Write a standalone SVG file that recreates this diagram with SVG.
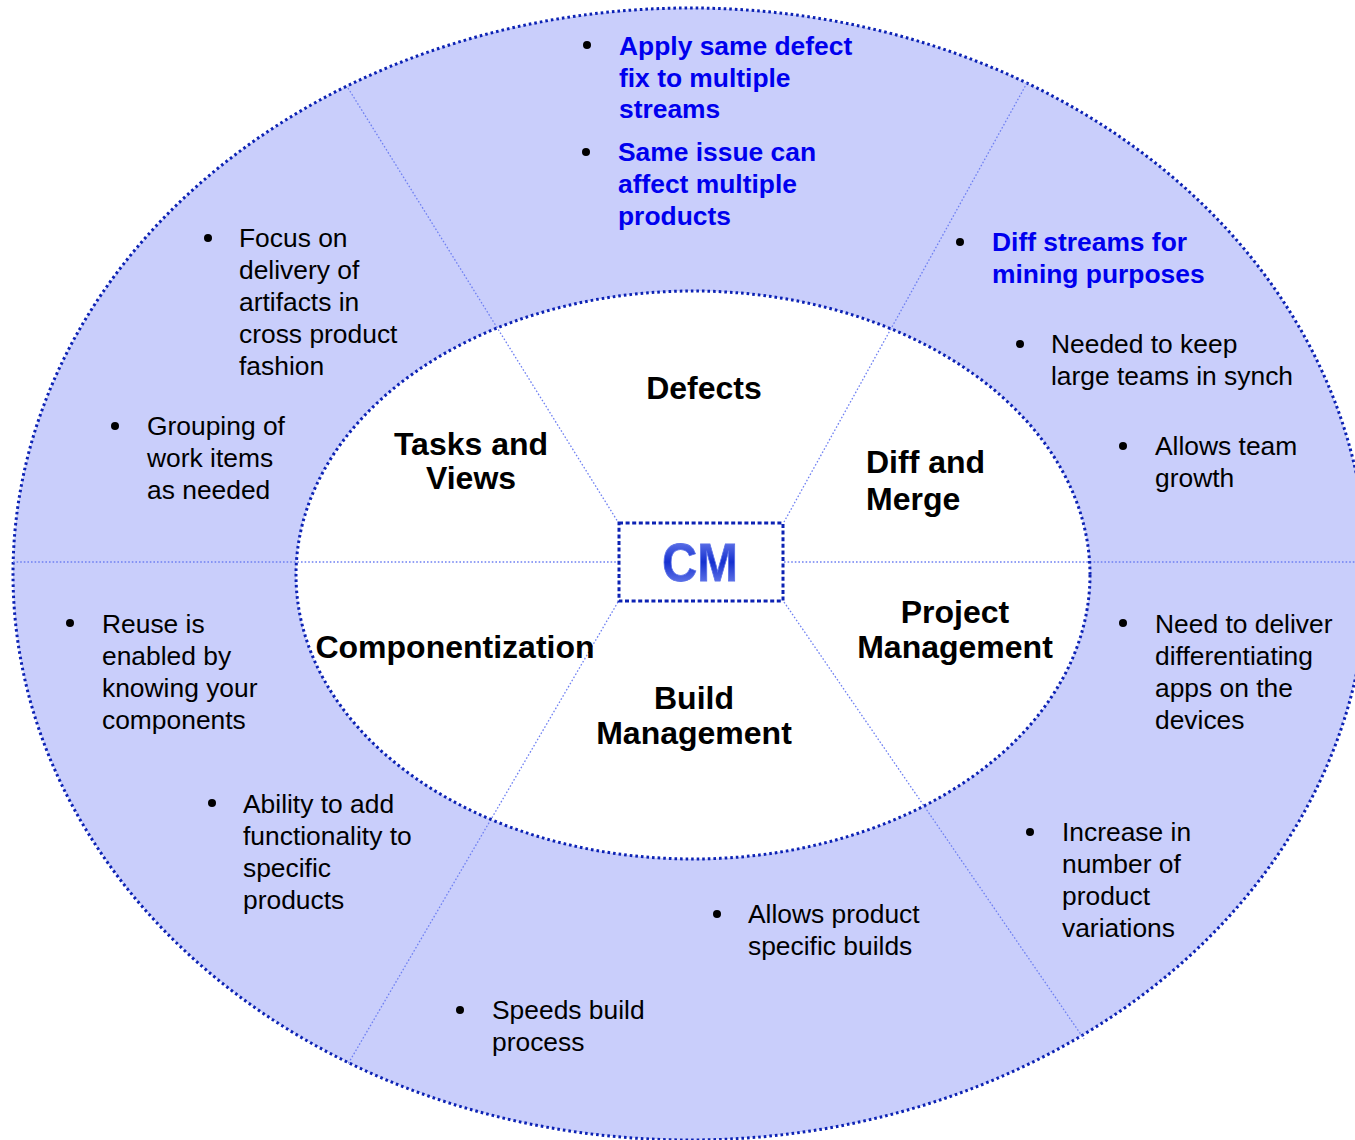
<svg xmlns="http://www.w3.org/2000/svg" width="1355" height="1140" viewBox="0 0 1355 1140">
<style>
.ring{fill:#c9cefb;stroke:#0c22b4;stroke-width:3;stroke-dasharray:2.6 3}
.sep{stroke:#6f80f2;stroke-width:1.3;stroke-dasharray:1.6 2;fill:none}
.body{font-family:"Liberation Sans",Arial,sans-serif;font-size:26.4px;fill:#000}
.blue{font-family:"Liberation Sans",Arial,sans-serif;font-size:26.4px;font-weight:bold;fill:#0000ee}
.lbl{font-family:"Liberation Sans",Arial,sans-serif;font-size:32px;font-weight:bold;fill:#000}
.bul{fill:#000}
</style>
<defs>
<linearGradient id="cmGrad" x1="0" y1="0" x2="0" y2="1">
<stop offset="0" stop-color="#8090f0"/>
<stop offset="0.5" stop-color="#1530d0"/>
<stop offset="1" stop-color="#8090f0"/>
</linearGradient>
</defs>
<g id="outer-ring">
<ellipse class="ring" cx="690" cy="574" rx="677" ry="566"/>
</g>
<g id="inner-ring">
<ellipse cx="693" cy="575" rx="397" ry="284" fill="#ffffff"/>
</g>
<g id="connectors">
<line class="sep" x1="13" y1="562" x2="618" y2="562"/>
<line class="sep" x1="784" y1="562" x2="1355" y2="562"/>
<line class="sep" x1="348" y1="88" x2="618" y2="522"/>
<line class="sep" x1="1027" y1="83" x2="784" y2="522"/>
<line class="sep" x1="618" y1="602" x2="348" y2="1064"/>
<line class="sep" x1="784" y1="602" x2="1084" y2="1039"/>
</g>
<g id="inner-border">
<ellipse cx="693" cy="575" rx="397" ry="284" fill="none" stroke="#0c22b4" stroke-width="3" stroke-dasharray="2.6 3"/>
</g>
<g id="cm">
<rect x="619" y="523" width="164" height="78" fill="#ffffff" stroke="#0c22b4" stroke-width="3" stroke-dasharray="4 2.6"/>
<text x="700" y="581" text-anchor="middle" font-family="'Liberation Sans',Arial,sans-serif" font-size="54" font-weight="bold" fill="url(#cmGrad)" stroke="#5a70e8" stroke-width="0.8" textLength="76" lengthAdjust="spacingAndGlyphs">CM</text>
</g>
<g id="label-defects"><text class="lbl" x="704" y="399" text-anchor="middle">Defects</text></g>
<g id="label-tasks"><text class="lbl" text-anchor="middle"><tspan x="471" y="455">Tasks and</tspan><tspan x="471" y="489">Views</tspan></text></g>
<g id="label-diff"><text class="lbl"><tspan x="866" y="473">Diff and</tspan><tspan x="866" y="510">Merge</tspan></text></g>
<g id="label-project"><text class="lbl" text-anchor="middle"><tspan x="955" y="623">Project</tspan><tspan x="955" y="658">Management</tspan></text></g>
<g id="label-comp"><text class="lbl" x="455" y="658" text-anchor="middle">Componentization</text></g>
<g id="label-build"><text class="lbl" text-anchor="middle"><tspan x="694" y="709">Build</tspan><tspan x="694" y="744">Management</tspan></text></g>
<g id="defects-notes">
<circle class="bul" cx="587" cy="45" r="4"/>
<text class="blue"><tspan x="619" y="55">Apply same defect</tspan><tspan x="619" y="87">fix to multiple</tspan><tspan x="619" y="118">streams</tspan></text>
<circle class="bul" cx="586" cy="152" r="4"/>
<text class="blue"><tspan x="618" y="161">Same issue can</tspan><tspan x="618" y="193">affect multiple</tspan><tspan x="618" y="225">products</tspan></text>
</g>
<g id="diff-notes">
<circle class="bul" cx="960" cy="242" r="4"/>
<text class="blue"><tspan x="992" y="251">Diff streams for</tspan><tspan x="992" y="283">mining purposes</tspan></text>
<circle class="bul" cx="1020" cy="344" r="4"/>
<text class="body"><tspan x="1051" y="353">Needed to keep</tspan><tspan x="1051" y="385">large teams in synch</tspan></text>
<circle class="bul" cx="1123" cy="446" r="4"/>
<text class="body"><tspan x="1155" y="455">Allows team</tspan><tspan x="1155" y="487">growth</tspan></text>
</g>
<g id="tasks-notes">
<circle class="bul" cx="208" cy="238" r="4"/>
<text class="body"><tspan x="239" y="247">Focus on</tspan><tspan x="239" y="279">delivery of</tspan><tspan x="239" y="311">artifacts in</tspan><tspan x="239" y="343">cross product</tspan><tspan x="239" y="375">fashion</tspan></text>
<circle class="bul" cx="115" cy="426" r="4"/>
<text class="body"><tspan x="147" y="435">Grouping of</tspan><tspan x="147" y="467">work items</tspan><tspan x="147" y="499">as needed</tspan></text>
</g>
<g id="comp-notes">
<circle class="bul" cx="70" cy="623" r="4"/>
<text class="body"><tspan x="102" y="633">Reuse is</tspan><tspan x="102" y="665">enabled by</tspan><tspan x="102" y="697">knowing your</tspan><tspan x="102" y="729">components</tspan></text>
<circle class="bul" cx="212" cy="803" r="4"/>
<text class="body"><tspan x="243" y="813">Ability to add</tspan><tspan x="243" y="845">functionality to</tspan><tspan x="243" y="877">specific</tspan><tspan x="243" y="909">products</tspan></text>
</g>
<g id="build-notes">
<circle class="bul" cx="460" cy="1010" r="4"/>
<text class="body"><tspan x="492" y="1019">Speeds build</tspan><tspan x="492" y="1051">process</tspan></text>
<circle class="bul" cx="717" cy="914" r="4"/>
<text class="body"><tspan x="748" y="923">Allows product</tspan><tspan x="748" y="955">specific builds</tspan></text>
</g>
<g id="project-notes">
<circle class="bul" cx="1030" cy="832" r="4"/>
<text class="body"><tspan x="1062" y="841">Increase in</tspan><tspan x="1062" y="873">number of</tspan><tspan x="1062" y="905">product</tspan><tspan x="1062" y="937">variations</tspan></text>
<circle class="bul" cx="1123" cy="623" r="4"/>
<text class="body"><tspan x="1155" y="633">Need to deliver</tspan><tspan x="1155" y="665">differentiating</tspan><tspan x="1155" y="697">apps on the</tspan><tspan x="1155" y="729">devices</tspan></text>
</g>
</svg>
